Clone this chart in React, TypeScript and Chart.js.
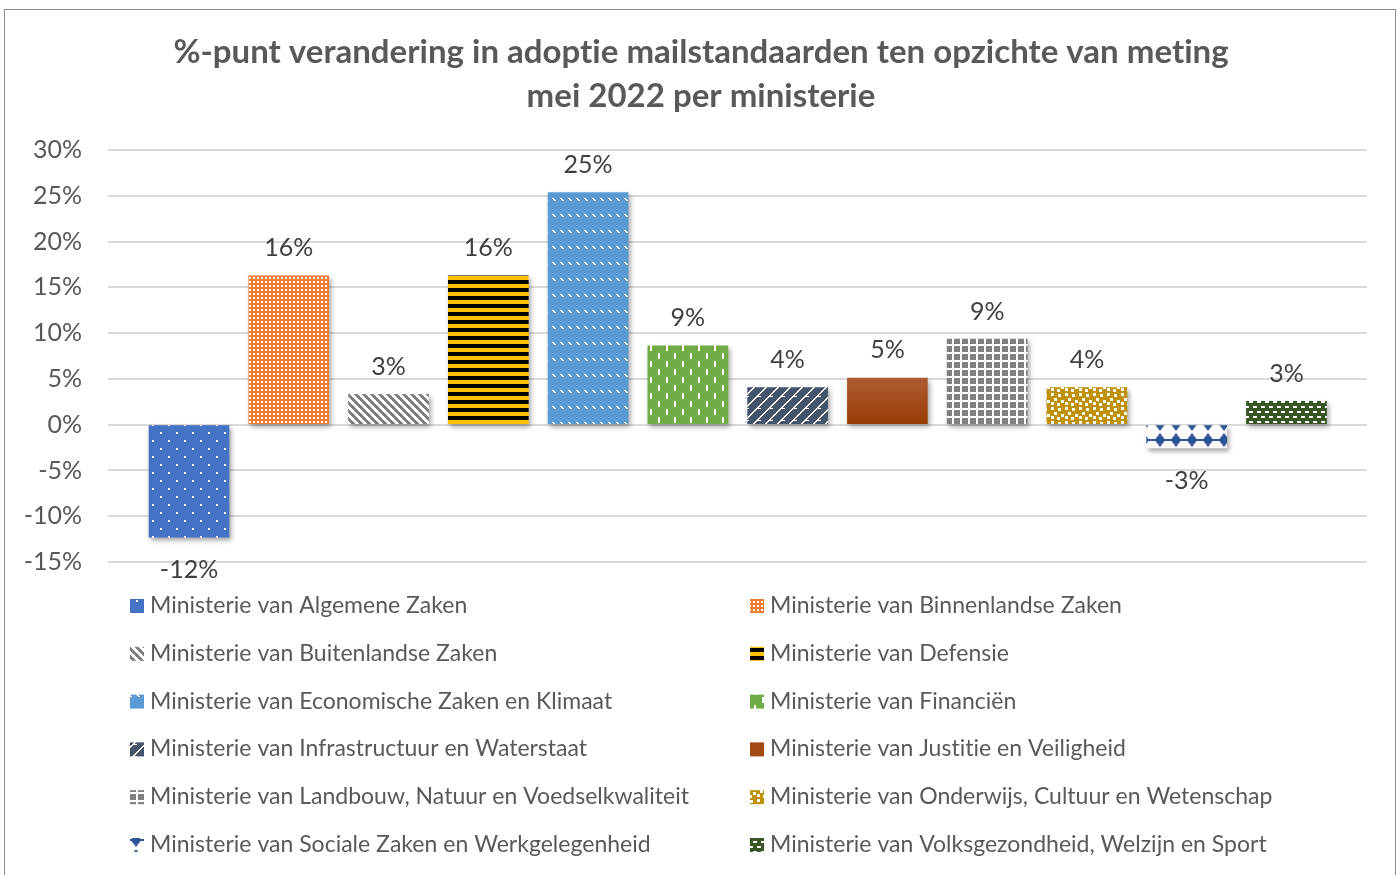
import React, { useEffect, useRef } from 'react';
import { Chart, registerables } from 'chart.js';

Chart.register(...registerables);

const TITLE_LINES = [
  '%-punt verandering in adoptie mailstandaarden ten opzichte van meting',
  'mei 2022 per ministerie',
];

const MINISTRIES = [
  'Ministerie van Algemene Zaken',
  'Ministerie van Binnenlandse Zaken',
  'Ministerie van Buitenlandse Zaken',
  'Ministerie van Defensie',
  'Ministerie van Economische Zaken en Klimaat',
  'Ministerie van Financiën',
  'Ministerie van Infrastructuur en Waterstaat',
  'Ministerie van Justitie en Veiligheid',
  'Ministerie van Landbouw, Natuur en Voedselkwaliteit',
  'Ministerie van Onderwijs, Cultuur en Wetenschap',
  'Ministerie van Sociale Zaken en Werkgelegenheid',
  'Ministerie van Volksgezondheid, Welzijn en Sport',
];

const CHANGE_PCT = [-12.3, 16.25, 3.3, 16.25, 25.35, 8.6, 4.05, 5.1, 9.35, 4.05, -2.55, 2.55];

const Y_MIN = -15;
const Y_MAX = 30;
const Y_STEP = 5;

const FONT = 'Lato, "Open Sans", sans-serif';
const TEXT_COLOR = '#595959';

type Spec = {
  w: number;
  h: number;
  bg: string;
  fg: string;
  px?: (x: number, y: number) => boolean;
  draw?: (g: CanvasRenderingContext2D) => void;
};

const PATTERN_SPECS: (Spec | null)[] = [
  { w: 16, h: 16, bg: '#4472C4', fg: '#ffffff', px: (x, y) => (x < 2 && y < 2) || (x >= 8 && x < 10 && y >= 8 && y < 10) },
  { w: 4, h: 4, bg: '#ED7D31', fg: '#ffffff', px: (x, y) => x >= 1 && x < 3 && y >= 1 && y < 3 },
  { w: 8, h: 8, bg: '#ffffff', fg: '#7F7F7F', px: (x, y) => ((((x - y) % 8) + 8) % 8) < 4 },
  { w: 1, h: 8, bg: '#FFC000', fg: '#000000', px: (_x, y) => y < 4 },
  { w: 8, h: 16, bg: '#5B9BD5', fg: '#ffffff', px: (x, y) => y >= 6 && y < 9 && (x === y - 6 || x === y - 5) },
  { w: 16, h: 16, bg: '#70AD47', fg: '#ffffff', px: (x, y) => (x >= 2 && x < 4 && y >= 1 && y < 7) || (x >= 10 && x < 12 && y >= 9 && y < 15) },
  {
    w: 12, h: 12, bg: '#44546A', fg: '#ffffff', px: (x, y) => {
      const d = (x + y) % 12;
      return d === 0 || d === 1 || (y % 12 === 0 && d < 5);
    },
  },
  null,
  { w: 8, h: 8, bg: '#808080', fg: '#ffffff', px: (x, y) => x < 2 || y < 2 },
  {
    w: 14, h: 14, bg: '#BF9000', fg: '#ffffff', draw: (g) => {
      [[1, 1], [8, 2], [4, 6], [11, 8], [1, 10], [7, 11]].forEach(([x, y]) => g.fillRect(x, y, 3, 3));
    },
  },
  {
    w: 16, h: 16, bg: '#ffffff', fg: '#2F5597', draw: (g) => {
      g.fillRect(0, 7, 16, 2);
      g.beginPath();
      g.arc(8, 8, 4, 0, Math.PI * 2);
      g.fill();
      g.beginPath();
      g.moveTo(8, 1);
      g.lineTo(13, 8);
      g.lineTo(8, 15);
      g.lineTo(3, 8);
      g.closePath();
      g.fill();
    },
  },
  { w: 8, h: 10, bg: '#375623', fg: '#ffffff', px: (x, y) => (y >= 1 && y < 3 && x >= 1 && x < 5) || (y >= 6 && y < 8 && (x >= 5 || x < 1)) },
];

const JENV_TOP = '#AE5C33';
const JENV_BOTTOM = '#983B02';

function makePattern(ctx: CanvasRenderingContext2D, s: Spec): CanvasPattern | string {
  const c = document.createElement('canvas');
  c.width = s.w;
  c.height = s.h;
  const g = c.getContext('2d');
  if (!g) return s.bg;
  g.fillStyle = s.bg;
  g.fillRect(0, 0, s.w, s.h);
  g.fillStyle = s.fg;
  if (s.px) {
    for (let y = 0; y < s.h; y++) {
      for (let x = 0; x < s.w; x++) {
        if (s.px(x, y)) g.fillRect(x, y, 1, 1);
      }
    }
  }
  if (s.draw) s.draw(g);
  return ctx.createPattern(c, 'repeat') || s.bg;
}

export default function App() {
  const ref = useRef<HTMLCanvasElement | null>(null);

  useEffect(() => {
    const canvas = ref.current;
    if (!canvas) return;
    const ctx = canvas.getContext('2d');
    if (!ctx) return;

    const fills = PATTERN_SPECS.map((s) => (s ? makePattern(ctx, s) : '#A34A14'));

    const bgFor = (c: any) => {
      const i = c.dataIndex;
      if (i === 7) {
        const ys = c.chart.scales && c.chart.scales.y;
        if (!ys) return '#A34A14';
        const top = ys.getPixelForValue(CHANGE_PCT[7]);
        const bot = ys.getPixelForValue(0);
        if (!isFinite(top) || !isFinite(bot)) return '#A34A14';
        const gr = c.chart.ctx.createLinearGradient(0, top, 0, bot);
        gr.addColorStop(0, JENV_TOP);
        gr.addColorStop(1, JENV_BOTTOM);
        return gr;
      }
      return fills[i];
    };

    const noLig = (c: any) => {
      try {
        c.textRendering = 'optimizeSpeed';
        c.letterSpacing = '0.01px';
      } catch (e) {
        /* ignore */
      }
    };

    const decor = {
      id: 'decor',
      beforeDraw(chart: any) {
        const c = chart.ctx;
        c.save();
        c.fillStyle = '#ffffff';
        c.fillRect(0, 0, chart.width, chart.height);
        c.strokeStyle = '#8c8c8c';
        c.lineWidth = 1;
        c.strokeRect(4.5, 9.5, 1391, 900);
        c.restore();
      },
      beforeDatasetsDraw(chart: any) {
        const c = chart.ctx;
        c.save();
        c.shadowColor = 'rgba(0,0,0,0.35)';
        c.shadowBlur = 5;
        c.shadowOffsetX = 2;
        c.shadowOffsetY = 3;
      },
      afterDatasetsDraw(chart: any) {
        const c = chart.ctx;
        c.restore();
        const meta = chart.getDatasetMeta(0);
        c.save();
        c.font = `25px ${FONT}`;
        c.fillStyle = '#404040';
        c.textAlign = 'center';
        c.textBaseline = 'alphabetic';
        meta.data.forEach((el: any, i: number) => {
          const v = CHANGE_PCT[i];
          const txt = `${Math.round(v)}%`;
          if (v >= 0) c.fillText(txt, el.x, el.y - 19.5);
          else c.fillText(txt, el.x, el.y + 40.5);
        });
        c.restore();
      },
      afterDraw(chart: any) {
        const c = chart.ctx;
        c.save();
        noLig(c);
        // title
        c.font = `bold 33px ${FONT}`;
        c.fillStyle = TEXT_COLOR;
        c.textAlign = 'center';
        c.textBaseline = 'alphabetic';
        c.fillText(TITLE_LINES[0], 701, 63);
        c.fillText(TITLE_LINES[1], 701, 107);
        // legend (two columns)
        c.font = `23px ${FONT}`;
        c.textAlign = 'left';
        MINISTRIES.forEach((name, i) => {
          const col = i % 2;
          const row = Math.floor(i / 2);
          const base = 613 + row * 47.8;
          const sx = col === 0 ? 130 : 750;
          const tx = col === 0 ? 150 : 770;
          let f: any = fills[i];
          if (i === 7) f = '#A34A14';
          c.fillStyle = f;
          c.fillRect(sx, base - 14, 14, 14);
          c.fillStyle = TEXT_COLOR;
          c.fillText(name, tx, base);
        });
        c.restore();
      },
    };

    const chart = new Chart(ctx, {
      type: 'bar',
      data: {
        datasets: [
          {
            label: 'Verandering',
            data: CHANGE_PCT.map((v, i) => ({ x: i, y: v })),
            backgroundColor: bgFor as any,
            borderWidth: 0,
            barThickness: 80,
          },
        ],
      },
      options: {
        responsive: false,
        animation: false,
        devicePixelRatio: 1,
        layout: { padding: { top: 150, right: 33, bottom: 313, left: 0 } },
        plugins: {
          legend: { display: false },
          title: { display: false },
          tooltip: { enabled: false },
        },
        scales: {
          x: {
            type: 'linear',
            display: false,
            offset: false,
            min: -0.812,
            max: 11.807,
          },
          y: {
            min: Y_MIN,
            max: Y_MAX,
            afterFit: (s: any) => {
              s.width = 108;
            },
            border: { display: false },
            grid: { color: '#d9d9d9', lineWidth: 2, drawTicks: false },
            ticks: {
              stepSize: Y_STEP,
              padding: 26,
              color: TEXT_COLOR,
              font: { family: FONT, size: 25 },
              callback: (v: any) => `${v}%`,
            },
          },
        },
      },
      plugins: [decor],
    } as any);

    return () => chart.destroy();
  }, []);

  return (
    <div style={{ position: 'fixed', left: 0, top: 0, width: 1400, height: 875, background: '#fff' }}>
      <canvas ref={ref} width={1400} height={875} style={{ width: 1400, height: 875, display: 'block' }} />
    </div>
  );
}
